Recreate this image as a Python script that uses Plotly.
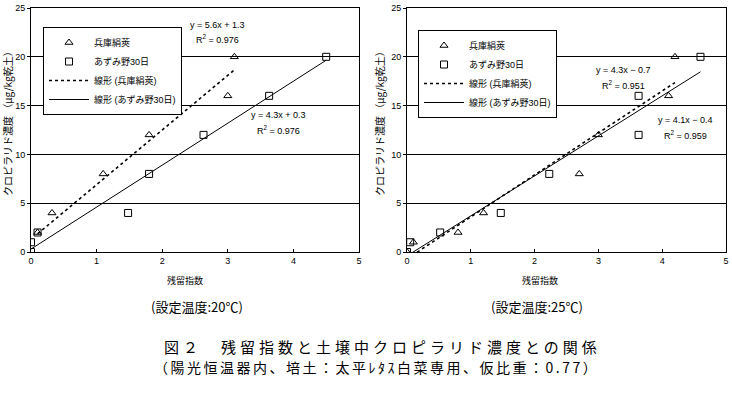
import plotly.graph_objects as go

# ---- data ----
tick_vals_x = [0, 1, 2, 3, 4, 5]
tick_vals_y = [0, 5, 10, 15, 20, 25]

series_names = ["兵庫絹莢", "あずみ野30日"]
trend_names = ["線形 (兵庫絹莢)", "線形 (あずみ野30日)"]

# 20℃
hyogo20_x = [0.1, 0.32, 1.1, 1.8, 3.0, 3.1]
hyogo20_y = [2, 4, 8, 12, 16, 20]
azumi20_x = [0, 0, 0.1, 1.48, 1.8, 2.63, 3.63, 4.5]
azumi20_y = [0, 1, 2, 4, 8, 12, 16, 20]
fit20_slope = [5.6, 4.3]
fit20_icpt = [1.3, 0.3]
fit20_r2 = ["0.976", "0.976"]

# 25℃
hyogo25_x = [0, 0.1, 0.8, 1.2, 2.7, 3.0, 4.1, 4.2]
hyogo25_y = [0, 1, 2, 4, 8, 12, 16, 20]
azumi25_x = [0, 0.05, 0.52, 1.47, 2.23, 3.63, 3.63, 4.6]
azumi25_y = [0, 1, 2, 4, 8, 12, 16, 20]
fit25_slope = [4.3, 4.1]
fit25_icpt = [-0.7, -0.4]
fit25_r2 = ["0.951", "0.959"]

W, H = 732, 398
FONT = "Liberation Sans, Arial, Noto Sans CJK JP, sans-serif"
JFONT = "Noto Sans CJK JP, sans-serif"

def px(x):
    return x / W

def py(y):
    return 1 - y / H

fig = go.Figure()

def add_panel(xa, ya, legend, hx, hy, ax_, ay_, slopes, icpts):
    fig.add_trace(go.Scatter(x=hx, y=hy, mode="markers", name=series_names[0],
                             xaxis=xa, yaxis=ya, legend=legend,
                             marker=dict(symbol="triangle-up-open", size=7,
                                         color="black", line=dict(width=1, color="black"))))
    fig.add_trace(go.Scatter(x=ax_, y=ay_, mode="markers", name=series_names[1],
                             xaxis=xa, yaxis=ya, legend=legend,
                             marker=dict(symbol="square-open", size=7,
                                         color="black", line=dict(width=1, color="black"))))
    for i, (sx, dash, w) in enumerate([(hx, "dot", 1.6), (ax_, "solid", 1)]):
        x0, x1 = min(sx), max(sx)
        fig.add_trace(go.Scatter(x=[x0, x1],
                                 y=[slopes[i] * x0 + icpts[i], slopes[i] * x1 + icpts[i]],
                                 mode="lines", name=trend_names[i],
                                 xaxis=xa, yaxis=ya, legend=legend,
                                 line=dict(color="black", width=w, dash=dash)))

add_panel("x", "y", "legend", hyogo20_x, hyogo20_y, azumi20_x, azumi20_y, fit20_slope, fit20_icpt)
add_panel("x2", "y2", "legend2", hyogo25_x, hyogo25_y, azumi25_x, azumi25_y, fit25_slope, fit25_icpt)

ydom = [py(252), py(8)]
axis_common = dict(showline=True, linecolor="black", linewidth=1, mirror=True,
                   zeroline=False, automargin=False,
                   tickfont=dict(family=FONT, size=9, color="black"))
xcommon = dict(axis_common, range=[0, 5], tickvals=tick_vals_x, showgrid=False,
               ticks="inside", ticklen=3, tickcolor="black")
ycommon = dict(axis_common, range=[0, 25], tickvals=tick_vals_y, showgrid=True,
               gridcolor="black", gridwidth=1, ticks="outside", ticklen=3, tickcolor="black")

fig.update_layout(
    width=W, height=H,
    margin=dict(l=0, r=0, t=0, b=0, autoexpand=False),
    paper_bgcolor="white", plot_bgcolor="white",
    font=dict(family=FONT, color="black"),
    xaxis=dict(xcommon, domain=[px(31), px(359)], anchor="y"),
    yaxis=dict(ycommon, domain=ydom, anchor="x"),
    xaxis2=dict(xcommon, domain=[px(407), px(726)], anchor="y2"),
    yaxis2=dict(ycommon, domain=ydom, anchor="x2"),
    legend=dict(x=px(43), y=py(27), xanchor="left", yanchor="top",
                bgcolor="white", bordercolor="black", borderwidth=1,
                font=dict(family=FONT, size=9, color="black"),
                itemwidth=40, tracegroupgap=0),
    legend2=dict(x=px(418), y=py(30), xanchor="left", yanchor="top",
                 bgcolor="white", bordercolor="black", borderwidth=1,
                 font=dict(family=FONT, size=9, color="black"),
                 itemwidth=40, tracegroupgap=0),
    showlegend=True,
)

ann = []
# equations
eqs = [
    ("x", "y", 2.85, 23.3, fit20_slope[0], fit20_icpt[0], fit20_r2[0]),
    ("x", "y", 3.78, 14.0, fit20_slope[1], fit20_icpt[1], fit20_r2[1]),
    ("x2", "y2", 3.39, 18.6, fit25_slope[0], fit25_icpt[0], fit25_r2[0]),
    ("x2", "y2", 4.37, 13.5, fit25_slope[1], fit25_icpt[1], fit25_r2[1]),
]
for xr, yr, ex, ey, s, b, r2 in eqs:
    sign = "+" if b >= 0 else "−"
    ann.append(dict(xref=xr, yref=yr, x=ex, y=ey, showarrow=False,
                    xanchor="center", yanchor="middle",
                    text=f"y = {s}x {sign} {abs(b)}",
                    font=dict(family=FONT, size=9, color="black")))
    ann.append(dict(xref=xr, yref=yr, x=ex, y=ey - 1.5, showarrow=False,
                    xanchor="center", yanchor="middle",
                    text=f"R<sup>2</sup> = {r2}",
                    font=dict(family=FONT, size=9, color="black")))

C = dict(xref="paper", yref="paper", showarrow=False, xanchor="center", yanchor="middle")
ytitle = "クロピラリド濃度 （μg/kg乾土）"
for xc in (8, 380):
    ann.append(dict(C, x=px(xc), y=py(121), text=ytitle, textangle=-90,
                    font=dict(family=JFONT, size=10, color="black")))
for xc in (185, 540):
    ann.append(dict(C, x=px(xc), y=py(280), text="残留指数",
                    font=dict(family=JFONT, size=9, color="black")))
for xc, t in ((197, "(設定温度:20℃)"), (537, "(設定温度:25℃)")):
    ann.append(dict(C, x=px(xc), y=py(306), text=t,
                    font=dict(family=JFONT, size=13, color="black")))
ann.append(dict(C, x=px(382), y=py(346),
                text='<span style="letter-spacing:4px">図２　残留指数と土壌中クロピラリド濃度との関係</span>',
                font=dict(family=JFONT, size=15, color="black")))
ann.append(dict(C, x=px(376), y=py(367),
                text='<span style="letter-spacing:2.5px">（陽光恒温器内、培土：太平ﾚﾀｽ白菜専用、仮比重：0.77）</span>',
                font=dict(family=JFONT, size=14, color="black")))
fig.update_layout(annotations=ann)

fig.write_html("out.html", config={"displayModeBar": False},
               post_script="document.body.style.margin='0';document.body.style.padding='0';")
